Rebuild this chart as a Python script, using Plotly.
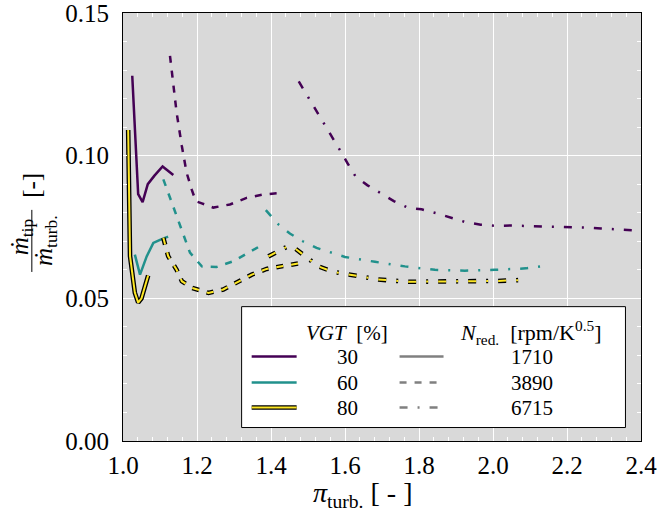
import plotly.graph_objects as go

# ---------------- data ----------------
vgt_levels = ["30", "60", "80"]
speed_levels = ["1710", "3890", "6715"]
vgt_colors = ["#440154", "#21918c", "#fde725"]

# VGT 30 %
x_30_1710 = [1.025, 1.041, 1.053, 1.067, 1.085, 1.107, 1.136]
y_30_1710 = [0.128, 0.0865, 0.0837, 0.090, 0.093, 0.0962, 0.0932]
x_30_3890 = [1.127, 1.136, 1.145, 1.159, 1.172, 1.186, 1.197, 1.213, 1.244, 1.289, 1.334, 1.379, 1.432]
y_30_3890 = [0.135, 0.1245, 0.115, 0.1034, 0.094, 0.088, 0.084, 0.0833, 0.0818, 0.0829, 0.0852, 0.0864, 0.087]
x_30_6715 = [1.475, 1.503, 1.523, 1.546, 1.567, 1.586, 1.607, 1.629, 1.661, 1.697, 1.732, 1.769, 1.807,
             1.848, 1.886, 1.926, 1.967, 2.007, 2.048, 2.088, 2.13, 2.17, 2.211, 2.251, 2.292, 2.334, 2.39]
y_30_6715 = [0.126, 0.12, 0.1157, 0.111, 0.1063, 0.102, 0.0973, 0.0926, 0.0896, 0.0867, 0.0841, 0.0818, 0.0812,
             0.0798, 0.0782, 0.0767, 0.0758, 0.0754, 0.0755, 0.0754, 0.0753, 0.0752, 0.0751, 0.0748, 0.0745, 0.0741, 0.0737]

# VGT 60 %
x_60_1710 = [1.032, 1.046, 1.064, 1.082, 1.100, 1.122]
y_60_1710 = [0.0653, 0.0583, 0.0647, 0.0694, 0.0705, 0.0716]
x_60_3890 = [1.109, 1.136, 1.159, 1.181, 1.213, 1.253, 1.298, 1.339, 1.373]
y_60_3890 = [0.0917, 0.0823, 0.0741, 0.066, 0.0612, 0.061, 0.063, 0.0661, 0.0685]
x_60_6715 = [1.386, 1.42, 1.451, 1.486, 1.523, 1.562, 1.60, 1.681, 1.762, 1.843, 1.924, 2.005, 2.089, 2.13]
y_60_6715 = [0.0809, 0.0759, 0.0727, 0.070, 0.0677, 0.0662, 0.0645, 0.0628, 0.0612, 0.060, 0.0597, 0.060, 0.0605, 0.0612]

# VGT 80 %
x_80_1710 = [1.014, 1.019, 1.032, 1.041, 1.050, 1.068]
y_80_1710 = [0.109, 0.0648, 0.052, 0.0485, 0.050, 0.058]
x_80_3890 = [1.109, 1.122, 1.145, 1.159, 1.186, 1.231, 1.271, 1.307, 1.348, 1.388, 1.43, 1.474, 1.49]
y_80_3890 = [0.0712, 0.0648, 0.060, 0.056, 0.0537, 0.0519, 0.0531, 0.0554, 0.0583, 0.0603, 0.0612, 0.0622, 0.0626]
x_80_6715 = [1.393, 1.442, 1.465, 1.496, 1.528, 1.567, 1.609, 1.69, 1.771, 1.851, 1.933, 2.014, 2.091]
y_80_6715 = [0.0647, 0.068, 0.0675, 0.0644, 0.0612, 0.0593, 0.0583, 0.0566, 0.0558, 0.0558, 0.056, 0.0561, 0.0565]

x_ticks = [1.0, 1.2, 1.4, 1.6, 1.8, 2.0, 2.2, 2.4]
y_ticks = [0.00, 0.05, 0.10, 0.15]

# ---------------- styles ----------------
FONT = "Liberation Serif"
LW = 2.5
dashes = ["solid", "7px,8px", "8px,10px,2px,10px"]

series = {
    ("30", "1710"): (x_30_1710, y_30_1710),
    ("30", "3890"): (x_30_3890, y_30_3890),
    ("30", "6715"): (x_30_6715, y_30_6715),
    ("60", "1710"): (x_60_1710, y_60_1710),
    ("60", "3890"): (x_60_3890, y_60_3890),
    ("60", "6715"): (x_60_6715, y_60_6715),
    ("80", "1710"): (x_80_1710, y_80_1710),
    ("80", "3890"): (x_80_3890, y_80_3890),
    ("80", "6715"): (x_80_6715, y_80_6715),
}

fig = go.Figure()
for vi, v in enumerate(vgt_levels):
    for si, s in enumerate(speed_levels):
        xs, ys = series[(v, s)]
        if v == "80":
            fig.add_trace(go.Scatter(x=xs, y=ys, mode="lines", showlegend=False,
                                     line=dict(color="black", width=4.6, dash=dashes[si])))
            fig.add_trace(go.Scatter(x=xs, y=ys, mode="lines", showlegend=False,
                                     line=dict(color=vgt_colors[vi], width=2.0, dash=dashes[si])))
        else:
            fig.add_trace(go.Scatter(x=xs, y=ys, mode="lines", showlegend=False,
                                     line=dict(color=vgt_colors[vi], width=LW, dash=dashes[si])))

axis_common = dict(
    showline=True, linecolor="black", linewidth=1, mirror="allticks",
    ticks="inside", ticklen=4, tickcolor="white",
    showgrid=True, gridcolor="white", gridwidth=1, zeroline=False,
    tickfont=dict(family=FONT, size=25, color="black"),
    ticklabeloverflow="allow", automargin=False,
)

fig.update_xaxes(range=[1.0, 2.4], tickvals=x_ticks, ticktext=[f"{t:.1f}" for t in x_ticks],
                 minor=dict(dtick=0.04, tick0=1.0, ticks="inside", ticklen=4, tickcolor="white", showgrid=False),
                 ticklabelstandoff=2, **axis_common)
fig.update_yaxes(range=[0.0, 0.1500001], tickvals=y_ticks, ticktext=[f"{t:.2f}" for t in y_ticks],
                 minor=dict(dtick=0.01, tick0=0.0, ticks="inside", ticklen=4, tickcolor="white", showgrid=False),
                 ticklabelstandoff=8, **axis_common)

shapes = []
annotations = []

# axis titles
annotations.append(dict(xref="paper", yref="paper", x=0.463, y=-0.126, showarrow=False,
                        text="<i>π</i><sub>turb.</sub> [ - ]", font=dict(family=FONT, size=28, color="black"),
                        xanchor="center", yanchor="middle"))
annotations.append(dict(xref="paper", yref="paper", x=-0.197, y=0.478, showarrow=False, textangle=-90,
                        text="<i>ṁ</i><sub>tip</sub>", font=dict(family=FONT, size=25, color="black"),
                        xanchor="center", yanchor="middle"))
annotations.append(dict(xref="paper", yref="paper", x=-0.150, y=0.468, showarrow=False, textangle=-90,
                        text="<i>ṁ</i><sub>turb.</sub>", font=dict(family=FONT, size=25, color="black"),
                        xanchor="center", yanchor="middle"))
annotations.append(dict(xref="paper", yref="paper", x=-0.178, y=0.598, showarrow=False, textangle=-90,
                        text="[-]", font=dict(family=FONT, size=25, color="black"),
                        xanchor="center", yanchor="middle"))
shapes.append(dict(type="line", xref="paper", yref="paper", x0=-0.176, x1=-0.176, y0=0.395, y1=0.540,
                   line=dict(color="black", width=1)))

# custom legend box
shapes.append(dict(type="rect", xref="paper", yref="paper", x0=0.229, x1=0.970, y0=0.0315, y1=0.3139,
                   fillcolor="white", line=dict(color="black", width=1), layer="above"))
leg_font = dict(family=FONT, size=21, color="black")
annotations.append(dict(xref="paper", yref="paper", x=0.4317, y=0.2532, showarrow=False,
                        text="<i>VGT</i>  [%]", font=leg_font, xanchor="center", yanchor="middle"))
annotations.append(dict(xref="paper", yref="paper", x=0.7868, y=0.2532, showarrow=False,
                        text="<i>N</i><sub>red.</sub>  [rpm/K<sup>0.5</sup>]", font=dict(family=FONT, size=22, color="black"),
                        xanchor="center", yanchor="middle"))
row_y = [0.1972, 0.1365, 0.0782]
for i in range(3):
    yy = row_y[i]
    if vgt_levels[i] == "80":
        shapes.append(dict(type="line", xref="paper", yref="paper", x0=0.2484, x1=0.3352, y0=yy, y1=yy,
                           line=dict(color="black", width=4.6), layer="above"))
        shapes.append(dict(type="line", xref="paper", yref="paper", x0=0.2484, x1=0.3352, y0=yy, y1=yy,
                           line=dict(color=vgt_colors[i], width=2.0), layer="above"))
    else:
        shapes.append(dict(type="line", xref="paper", yref="paper", x0=0.2484, x1=0.3352, y0=yy, y1=yy,
                           line=dict(color=vgt_colors[i], width=LW), layer="above"))
    shapes.append(dict(type="line", xref="paper", yref="paper", x0=0.5339, x1=0.6188, y0=yy, y1=yy,
                       line=dict(color="#808080", width=LW, dash=dashes[i]), layer="above"))
    annotations.append(dict(xref="paper", yref="paper", x=0.4336, y=yy, showarrow=False,
                            text=vgt_levels[i], font=leg_font, xanchor="center", yanchor="middle"))
    annotations.append(dict(xref="paper", yref="paper", x=0.7887, y=yy, showarrow=False,
                            text=speed_levels[i], font=leg_font, xanchor="center", yanchor="middle"))

fig.update_layout(
    width=658, height=518, autosize=False,
    margin=dict(l=123, r=17, t=13, b=77, autoexpand=False),
    paper_bgcolor="white", plot_bgcolor="#d9d9d9",
    font=dict(family=FONT, color="black"),
    showlegend=False,
    shapes=shapes, annotations=annotations,
)

fig.write_html("out.html")
